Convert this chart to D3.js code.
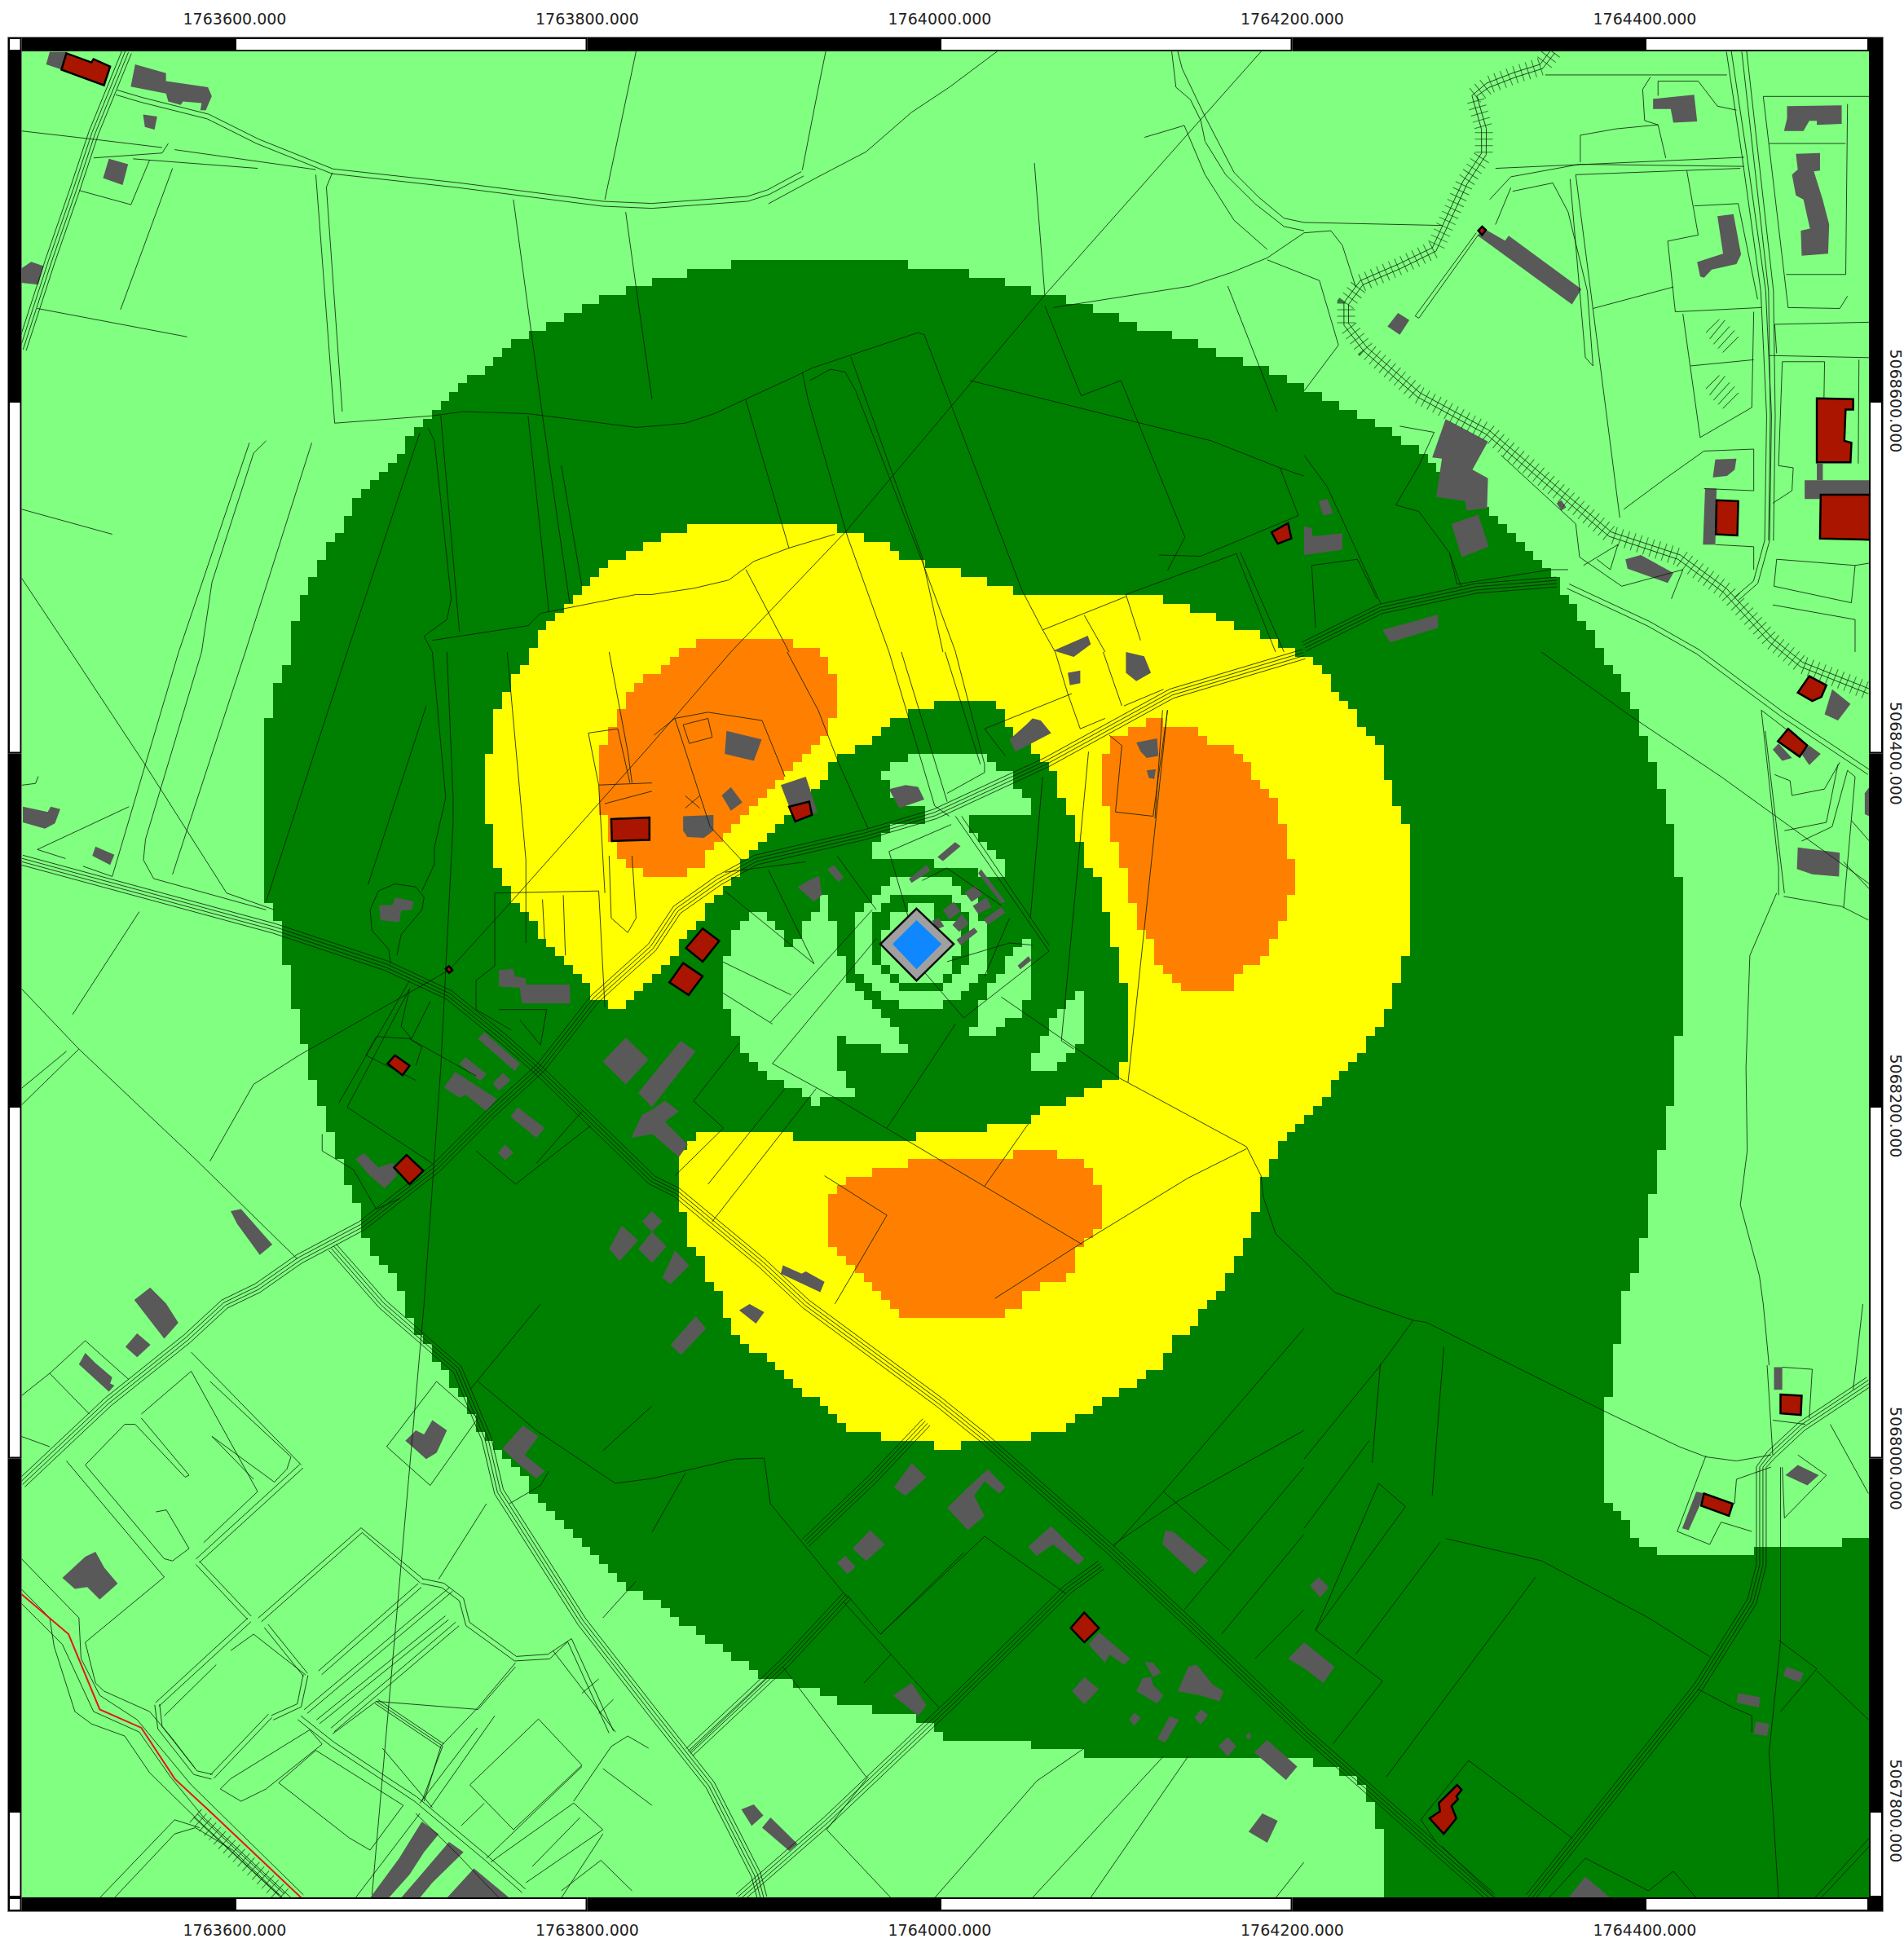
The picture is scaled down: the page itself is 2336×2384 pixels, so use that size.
<!DOCTYPE html>
<html>
<head>
<meta charset="utf-8">
<title>Noise map</title>
<script src="https://cdn.jsdelivr.net/npm/d3@7"></script>
<style>
html,body{margin:0;padding:0;background:#fff}
svg{display:block}
text{font-family:"DejaVu Sans",sans-serif;font-size:19px;fill:#222}
</style>
</head>
<body>
<script>
// all map data: metres east of 1763000 / metres north of 5067000
var eastBase=1763000, northBase=5067000;
var xTicks=[600,800,1000,1200,1400];
var yTicks=[1600,1400,1200,1000,800];
var cellSize=5, cellOrigin=[1.8,0];

// contour outlines
var zoneDark=[[632,1458],[632,1470],[637,1485],[643,1495],[652.5,1515],[667,1540],[677,1555],[697,1575],[703,1584],[712,1595],[737,1615],[762,1635],[782,1646],[802,1655],[828,1665],[842,1670],[868,1675],[892,1680],[962,1680],[1002,1675],[1027,1670],[1047,1664],[1060,1660],[1082,1655],[1096,1650],[1107,1645],[1121,1640],[1136,1636],[1152,1630],[1166,1624],[1181,1620],[1192,1615],[1207,1607],[1261,1580],[1311,1541],[1345,1504],[1359,1483],[1376,1458],[1397,1419],[1416,1356],[1422,1310],[1422,1261],[1416,1211],[1406,1156],[1397,1111],[1387,1088],[1387,1065],[1381,1065],[1381,1034],[1376,1034],[1376,973],[1381,973],[1397,953],[1412,944],[1461,944],[1461,948],[1512,948],[1512,953],[1536,953],[1536,745],[1252,745],[1252,790],[1247,790],[1247,805],[1242,805],[1242,815],[1237,815],[1237,820],[1227,820],[1227,825],[1212,825],[1212,830],[1082,830],[1082,835],[1051,835],[1051,841],[1002,841],[1002,845],[982,854],[946,861],[922,871],[901,876],[856,905],[837,920],[825,926],[797,954],[772,979],[752,1002],[742,1011],[737,1020],[717,1053],[703,1072],[697,1088],[688,1105],[672,1126],[672,1141],[662,1160],[657,1177],[652,1190],[647,1205],[643,1221],[637,1240],[632,1265],[627,1290],[622,1316],[617,1316],[617,1406],[622,1434]];
var zoneYellow=[[767,1458],[773,1464],[777,1475],[788,1485],[797,1495],[808,1505],[817,1510],[827,1515],[837,1520],[847,1525],[862,1530],[937,1530],[951,1525],[967,1520],[982,1510],[1002,1505],[1017,1500],[1032,1495],[1047,1490],[1117,1490],[1147,1480],[1162,1475],[1176,1470],[1187,1464],[1197,1458],[1207,1456],[1212,1451],[1216,1446],[1221,1441],[1226,1435],[1231,1430],[1237,1420],[1242,1411],[1252,1406],[1252,1390],[1257,1380],[1262,1361],[1266,1361],[1266,1291],[1262,1276],[1257,1261],[1252,1251],[1246,1241],[1242,1236],[1237,1226],[1231,1221],[1226,1216],[1221,1211],[1216,1200],[1212,1196],[1207,1191],[1197,1185],[1187,1165],[1182,1160],[1182,1142],[1177,1135],[1172,1121],[1167,1110],[1162,1100],[1152,1088],[1147,1081],[1143,1075],[1136,1070],[1131,1065],[1127,1055],[1122,1050],[1117,1046],[1107,1041],[1102,1036],[1091,1031],[1082,1025],[1072,1021],[1072,1015],[1051,1015],[1051,1010],[1012,1010],[1012,1005],[997,1005],[997,1010],[967,1010],[967,1015],[951,1015],[941,1025],[932,1030],[927,1036],[917,1041],[912,1046],[907,1051],[901,1057],[897,1061],[887,1066],[882,1071],[882,1081],[877,1081],[877,1088],[868,1104],[862,1118],[856,1128],[852,1151],[852,1171],[856,1176],[862,1181],[867,1186],[917,1186],[917,1181],[987,1181],[987,1186],[1027,1186],[1027,1191],[1051,1191],[1051,1196],[1067,1200],[1077,1206],[1087,1211],[1101,1216],[1101,1226],[1107,1226],[1107,1270],[1101,1270],[1101,1290],[1096,1290],[1096,1310],[1091,1310],[1091,1330],[1087,1330],[1081,1346],[1077,1361],[1072,1370],[1067,1380],[1062,1394],[1057,1399],[1051,1406],[1041,1415],[1036,1420],[1031,1430],[997,1430],[997,1425],[982,1425],[982,1420],[972,1420],[972,1415],[967,1415],[967,1410],[962,1410],[962,1405],[952,1405],[952,1400],[946,1400],[941,1395],[937,1390],[932,1385],[927,1380],[912,1364],[907,1359],[902,1354],[897,1349],[892,1344],[887,1339],[887,1330],[877,1325],[872,1316],[867,1311],[862,1304],[852,1291],[842,1276],[837,1271],[827,1266],[822,1256],[813,1256],[813,1261],[802,1261],[802,1266],[797,1271],[792,1276],[788,1280],[783,1285],[777,1291],[773,1297],[767,1306],[762,1311],[757,1316],[757,1325],[752,1325],[752,1336],[747,1336],[747,1361],[742,1361],[742,1401],[747,1401],[747,1420],[752,1435],[757,1435],[757,1445],[762,1445],[762,1451],[767,1451]];
var zoneOrangeA=[[807,1400],[807,1365],[812,1365],[812,1355],[817,1342],[822,1336],[837,1330],[856,1330],[862,1335],[868,1340],[871,1346],[877,1352],[882,1356],[886,1361],[892,1367],[897,1372],[901,1379],[912,1389],[917,1394],[922,1399],[927,1405],[932,1409],[937,1415],[941,1421],[941,1447],[937,1447],[937,1453],[932,1458],[932,1461],[917,1461],[917,1465],[867,1465],[857,1458],[853,1458],[847,1453],[842,1447],[837,1445],[827,1440],[822,1434],[817,1420],[813,1409]];
var zoneOrangeB=[[1091,1400],[1096,1400],[1096,1409],[1107,1409],[1107,1415],[1117,1415],[1117,1420],[1126,1420],[1126,1415],[1147,1415],[1147,1411],[1157,1406],[1166,1406],[1166,1400],[1176,1395],[1182,1380],[1192,1370],[1192,1361],[1197,1361],[1197,1340],[1202,1340],[1202,1321],[1197,1321],[1197,1306],[1192,1306],[1192,1296],[1187,1296],[1187,1287],[1176,1280],[1166,1270],[1166,1266],[1136,1266],[1136,1270],[1126,1276],[1122,1285],[1117,1299],[1112,1301],[1112,1316],[1107,1316],[1107,1336],[1101,1336],[1101,1350],[1096,1350],[1096,1370],[1091,1370]];
var zoneOrangeC=[[937,1150],[946,1155],[951,1160],[971,1165],[1002,1171],[1042,1171],[1042,1176],[1067,1176],[1067,1171],[1081,1171],[1081,1165],[1087,1165],[1087,1155],[1091,1155],[1091,1131],[1087,1131],[1087,1125],[1081,1120],[1077,1115],[1077,1106],[1067,1101],[1047,1092],[1047,1088],[1032,1081],[981,1081],[971,1088],[962,1097],[957,1101],[951,1106],[941,1117],[937,1122]];

// lighter pockets in the dark zone
var pocketTop=[[982,1400],[1027,1400],[1027,1395],[1032,1395],[1032,1390],[1042,1390],[1042,1380],[1047,1380],[1047,1375],[1052,1375],[1052,1365],[1017,1365],[1017,1355],[1022,1355],[1022,1350],[1027,1350],[1027,1345],[1032,1345],[1032,1340],[1037,1340],[1037,1330],[1022,1330],[1017,1335],[997,1335],[992,1340],[962,1340],[962,1350],[967,1350],[967,1355],[977,1360],[992,1362],[992,1367],[997,1370],[982,1371],[972,1375],[972,1385],[967,1385],[967,1390],[972,1390],[972,1395],[982,1395]];
var ringOuter=[[972,1330],[1007,1330],[1007,1325],[1012,1325],[1012,1320],[1017,1320],[1022,1315],[1022,1305],[1027,1305],[1027,1275],[1022,1275],[1022,1270],[1017,1270],[1012,1265],[1012,1260],[1002,1260],[1002,1255],[977,1255],[977,1260],[967,1260],[967,1265],[962,1265],[962,1270],[957,1270],[957,1275],[952,1275],[952,1310],[957,1310],[957,1315],[962,1315],[962,1320],[967,1320],[967,1325],[972,1325]];
var ringDark=[[972,1320],[1007,1320],[1007,1315],[1012,1315],[1012,1310],[1017,1310],[1017,1280],[1012,1280],[1012,1275],[1007,1275],[1007,1270],[1002,1270],[1002,1265],[977,1265],[977,1270],[972,1270],[972,1275],[967,1275],[967,1280],[962,1280],[962,1310],[967,1310],[967,1315],[972,1315]];
var ringCore=[[982,1315],[997,1315],[997,1305],[1012,1305],[1012,1285],[1007,1285],[1007,1275],[1002,1275],[1002,1270],[977,1270],[977,1275],[972,1275],[972,1280],[967,1280],[967,1300],[972,1300],[972,1310],[982,1310]];
var pocketLeft=[[892,1310],[902,1310],[902,1305],[907,1305],[907,1300],[912,1295],[912,1290],[917,1290],[917,1295],[922,1300],[922,1305],[927,1310],[932,1315],[932,1320],[937,1320],[937,1305],[942,1305],[942,1285],[947,1285],[947,1270],[952,1270],[952,1265],[957,1265],[957,1260],[962,1260],[962,1255],[967,1255],[967,1250],[972,1250],[972,1245],[977,1245],[977,1235],[982,1235],[982,1230],[967,1230],[967,1235],[947,1235],[947,1240],[942,1240],[942,1220],[947,1220],[947,1210],[952,1210],[952,1205],[932,1205],[932,1200],[927,1200],[927,1205],[922,1205],[922,1210],[912,1210],[912,1215],[902,1215],[902,1220],[897,1220],[897,1225],[892,1225],[892,1230],[887,1230],[887,1240],[882,1240],[882,1255],[877,1255],[877,1285],[882,1285],[882,1300],[887,1300],[887,1305],[892,1305]];
var pocketLowerA=[[1017,1245],[1022,1250],[1022,1260],[1027,1260],[1027,1270],[1032,1270],[1032,1275],[1037,1275],[1037,1285],[1042,1285],[1042,1290],[1047,1290],[1047,1295],[1052,1295],[1052,1260],[1047,1260],[1047,1255],[1042,1250],[1032,1245],[1032,1240],[1017,1240]];
var pocketLowerB=[[1077,1265],[1082,1265],[1082,1235],[1077,1235],[1077,1230],[1072,1230],[1067,1225],[1067,1220],[1052,1220],[1052,1230],[1057,1230],[1057,1240],[1062,1240],[1062,1250],[1067,1250],[1067,1255],[1072,1255],[1072,1260],[1077,1260]];

// reservoir
var basinOuter=[[986.8,1312],[1007.9,1291.9],[986.8,1271.1],[966.3,1291.9]];
var basinWater=[[986.8,1305.4],[1001,1291.9],[986.8,1277.6],[973.2,1291.9]];

var buildingsGrey=[
[[495,1798],[505,1798],[502,1788],[493,1791]],
[[543.5,1791],[561,1786],[561,1781.5],[584.8,1778],[587,1773],[583.6,1765],[580.5,1765],[581.2,1769],[570.6,1770],[569.4,1768],[562.3,1770],[561,1774.4],[541,1778.4]],
[[548,1762.6],[556,1761.4],[554.5,1754],[549,1755.5]],[[528.6,1737.4],[539.5,1734.3],[536.4,1722.5],[525.3,1726.5]],
[[479,1675.3],[484.5,1679],[491.6,1676.5],[488.5,1666],[479,1667]],
[[1305,1694],[1308.7,1697.8],[1320.7,1691],[1322.8,1693.8],[1364,1663.5],[1358.7,1654.8]],
[[1254,1642.3],[1260,1650],[1266.4,1645.9],[1261,1637.6]],
[[1404.7,1771.4],[1428,1773.7],[1429.7,1758.6],[1416.2,1757.9],[1414.7,1765.7],[1404.7,1765.7]],
[[1480.7,1767.3],[1511.7,1767.8],[1511.7,1757.2],[1497.6,1756.7],[1497.6,1759],[1493.3,1759],[1490,1753.2],[1479,1753.2],[1480.7,1760.3]],
[[1485.7,1740.2],[1499.4,1740.7],[1499.4,1730.8],[1495.9,1730.3],[1500.9,1714.3],[1504.6,1700.1],[1504,1683.6],[1489,1682.4],[1488.5,1696.6],[1493.7,1697.8],[1490,1714.3],[1485.7,1716.6],[1483.5,1728.4],[1486.8,1731.3]],
[[1441.2,1704.8],[1450.3,1706],[1454.6,1683.1],[1452,1677.7],[1438,1674.6],[1433.6,1670],[1431.4,1670.6],[1429.7,1678.9],[1444.4,1683.6]],
[[1440,1566.8],[1452,1567.3],[1451,1561],[1446.6,1557.4],[1438.6,1556.7]],
[[1434.2,1550.3],[1440.7,1550.3],[1440,1518.5],[1433,1518.5]],
[[1490.7,1555],[1527.6,1555],[1527.6,1544.4],[1490.7,1544.4]],[[1497.6,1564.5],[1501,1564.5],[1501,1555],[1497.6,1555]],
[[1287,1589.7],[1311,1577],[1302.2,1561],[1311,1556.2],[1310.5,1539.2],[1299,1537.8],[1297.9,1543.2],[1281.6,1545.6],[1284.9,1567.3],[1279.4,1568]],
[[1290.3,1530.3],[1305.5,1535.5],[1311.4,1517.3],[1296.1,1511.4]],[[1251.2,1470.1],[1282.7,1478.8],[1282.7,1471.3],[1255.5,1463]],
[[1389,1510.2],[1397.7,1512.6],[1416.2,1502.4],[1413,1496.8],[1390.2,1504.8]],[[1350,1542],[1352.6,1543.7],[1355.4,1539.7],[1352.6,1537.8]],
[[1215,1543.2],[1220,1544.4],[1223,1536.2],[1217.6,1535]],[[1206.7,1529],[1211,1527.9],[1211.5,1523.2],[1228.4,1525],[1228.4,1515.6],[1206.7,1512.6]],
[[1064.6,1458.4],[1084,1466.8],[1085.7,1462],[1076,1454.8]],
[[1105.6,1457.6],[1116,1455.2],[1119.8,1445.8],[1111.5,1441],[1105.6,1445.8]],[[1072.6,1445.8],[1079.7,1447],[1079.7,1439.9],[1073.8,1438.7]],
[[1039.6,1408],[1049,1416.3],[1052.6,1419.9],[1057.3,1418.7],[1063.2,1411.6],[1043,1401]],
[[879,1412.8],[899,1408],[894.5,1395.8],[878,1399.8]],[[881.5,1380.9],[888,1372.2],[881.5,1367.5],[876.3,1376.2]],
[[854.4,1364.4],[871.6,1365.1],[871.6,1356.2],[866.2,1352.1],[856.8,1352.6],[854.4,1356.2]],
[[909.8,1382.1],[924,1386.8],[930.6,1366.8],[918,1360.9]],[[971.2,1379.8],[980.6,1382.1],[987.7,1381],[991.2,1373.9],[977,1369]],
[[1111.5,1406.2],[1123.3,1408.5],[1124,1398.6],[1117.4,1397.4],[1114,1401]],[[1117.4,1390.4],[1122.6,1391.1],[1121.7,1385.6],[1118.6,1386.1]],
[[919.3,1324.3],[926.2,1328.2],[931.6,1330.5],[933.1,1319.7],[928.5,1315.9]],[[936.2,1334.3],[940,1336.6],[945.5,1329.7],[942.4,1327.1]],
[[998.7,1341.3],[1008.7,1349.7],[1011.8,1347.4],[1001.8,1339]],[[982.5,1328.9],[992.5,1336.6],[994.8,1333.6],[984,1326.6]],
[[1023.4,1334.3],[1037.2,1315.8],[1034.9,1315],[1021.8,1332]],[[1014.1,1321.2],[1020.3,1325.1],[1024.1,1319.7],[1018,1315.8]],
[[1018.7,1313.5],[1026.4,1318.2],[1029.5,1312.8],[1021.8,1309]],[[1024.9,1305.8],[1034.9,1312.8],[1037.2,1309.7],[1027.2,1302.8]],
[[1001.8,1311.2],[1007.9,1315.8],[1011.8,1310.4],[1005.6,1305.8]],[[1007.2,1302.7],[1012.5,1308.9],[1016.4,1303.5],[1011,1298.9]],
[[995.6,1305.1],[999.5,1306.6],[1002.5,1302],[998.7,1300.4]],[[1009.5,1294.3],[1019.5,1301.2],[1021.5,1298.9],[1011.8,1291.2]],
[[1044.2,1279.6],[1050.3,1285],[1051.9,1282.7],[1045.7,1277.6]],
[[479.8,1369.8],[493.9,1366.8],[495.6,1369.8],[501,1368.4],[498,1360.4],[492.3,1357.3],[479.8,1360.9]],
[[521,1347.2],[531.7,1342.5],[529.3,1336.8],[519.2,1342]],
[[691,1318.4],[701.5,1316],[700.4,1311.3],[694.4,1310.9],[693.3,1304.3],[682.7,1305.4],[682,1313.7],[689.7,1314.2]],
[[749.9,1277.1],[758.1,1277.8],[758.8,1273.6],[765.2,1272.4],[765.2,1268.9],[790,1268.9],[790.4,1258.3],[762.9,1258.3],[761.7,1267],[749.9,1267.7]],
[[741.6,1241.8],[761.7,1224],[758.9,1219.8],[738,1238.2]],[[731,1227.6],[742.8,1218.2],[739.3,1214.1],[727.5,1224]],
[[752.2,1218.9],[756.5,1214.6],[749.9,1208.7],[746.3,1212.7]],[[725.1,1219.3],[748.7,1204],[742.8,1197],[731,1206.4],[727.5,1204.7],[718.7,1210.4]],
[[760.5,1199.3],[775.8,1187.5],[771.1,1182],[756.5,1193.9]],[[753.4,1178.1],[758.1,1173.4],[753.4,1169.3],[749.4,1173.4]],
[[821.8,1238.7],[834.8,1226.4],[821.8,1212.3],[808.8,1225.2]],[[853,1237],[861.5,1231],[836.7,1199.3],[828.9,1207.5]],
[[837,1198],[844,1203],[852,1197],[844,1191],[857,1178],[852,1171],[837,1184],[825,1182],[831,1195]],
[[836.7,1140.3],[842.6,1134.4],[836.7,1128.5],[831,1134.5]],[[836.7,1128.5],[845,1120.3],[836.7,1111],[828.9,1119]],
[[849.7,1117.9],[857.9,1109.6],[847.3,1099],[842.6,1102.5]],[[819.5,1132],[828.9,1123.8],[818.3,1112],[812.4,1119]],
[[911,1109.6],[921.6,1104.9],[924,1106.1],[934.6,1100.2],[932.2,1094.3],[909.8,1104.9]],
[[597.7,1140.3],[603.6,1141.5],[621.3,1121.4],[614.2,1115.5],[601.3,1133.2]],
[[668.5,1169.8],[673.2,1173.4],[681.5,1165.1],[689.7,1167.9],[692,1160.4],[685,1153.3],[676.8,1160.4]],
[[515.2,1059.9],[521,1054.1],[530.5,1046],[529.3,1042.5],[531.7,1041.4],[528.6,1037.9],[511.6,1053.4]],
[[544.6,1071],[552.2,1064.5],[544.6,1057.5],[538,1063.3]],[[543,1090],[552,1097],[561,1088],[568,1077],[560,1068],[553,1077]],
[[521,947],[526,938],[533.6,929],[523.4,920],[516.3,927],[509.3,926],[502.2,932.2],[515.2,944.3]],
[[706.2,794],[715.7,786.8],[707.4,776.6],[699.2,763.9],[687.4,750.7],[676.8,750.7],[693.3,773.2]],
[[721.6,782.4],[729.8,776.6],[712.1,759.3],[705,750.7],[694.4,750.7]],[[735.7,767.4],[755.8,750.7],[720.4,750.7]],
[[712.1,1021.7],[720.4,1015.9],[714.5,1003.2],[708.6,999.7],[696.8,1010.1],[702.7,1015.9],[707.4,1013.6]],
[[763.6,1018.7],[772.3,1012.5],[764.5,1002],[775.8,992.8],[771.1,988.6],[761.7,996.3],[751.8,1005.5]],
[[984.1,997.4],[992.4,989.3],[980.6,978.9],[974,983.6]],
[[1027.3,993.9],[1037.2,983.6],[1033.7,980.1],[1025.4,987],[1019.5,978.9],[1025.4,967.4],[1016,959.3],[1004.2,972],[1016,983.6]],
[[960.5,959.3],[968.8,951.2],[958.2,941.9],[950.4,948.9]],[[946.4,944.7],[952.3,938.5],[947.6,934.5],[941.7,940.8]],
[[1063.2,961.6],[1082,943.1],[1078.5,939.6],[1064.3,951.2],[1054.9,944.7],[1050.2,950]],
[[861.5,1080.7],[867.4,1073.7],[853.2,1058.7],[847.3,1064.5]],[[892.1,1087.6],[900.4,1083],[895.7,1076.5],[886.2,1084.1]],
[[1128,959.3],[1132.8,958.1],[1152.4,942],[1144.5,934.5],[1126.4,951.2]],
[[1090.3,901.5],[1108,886.4],[1104.5,883],[1096.2,888.8],[1093.8,884.1],[1084.4,894.5]],
[[1116.2,884.6],[1121,884.1],[1125.7,878.4],[1121,876]],[[1115,875.4],[1119.8,876],[1121,871.4],[1126.9,865.6],[1123.3,861],[1111.5,868]],
[[1141,881.8],[1145.7,883],[1155.2,871.4],[1161,868],[1158.7,862.2],[1148,865.6],[1135,868]],
[[1082,876],[1090.3,869.1],[1082,860.6],[1075,868]],[[1110.3,855.7],[1113.9,852.9],[1110.3,848.3],[1107.5,851.8]],
[[1130.4,853.6],[1135.8,851.8],[1128,839.1],[1123.3,840.7]],[[1148,857.6],[1152.3,854.5],[1148,849],[1144.5,852.9]],
[[1163.4,842],[1168.1,836.8],[1163.4,831],[1158,836.8]],[[1175.2,844.4],[1176.9,842.5],[1175.2,840.2],[1173.6,842.5]],
[[1185.8,840.2],[1202.8,825.2],[1196.4,817.6],[1178.3,833.3]],[[1183,798.6],[1191.7,794.4],[1185.8,782],[1175.2,788.2]],
[[980.6,870.3],[984.1,872.6],[992.4,859.9],[987.7,854.1],[973.5,865.6]],
[[1197.6,886.4],[1206.7,895.7],[1224,881.8],[1217.6,872.6],[1206.7,881]],
[[887.4,800.9],[894.5,803.7],[899.9,797.4],[893.3,791.6]],[[904,796.3],[919.3,781.3],[914.6,777.3],[899.2,790.5]],
[[1210,928],[1215,932.7],[1220.8,926.9],[1215.8,921.1]],[[1366.3,762.8],[1380.4,750.7],[1356.5,750.7]],
[[1453,866.8],[1465.5,864.5],[1464.6,858.7],[1452,861.5]],[[1463,850.6],[1470.5,849.5],[1469.4,842.5],[1461.8,843.7]],
[[1480.3,881.8],[1490,878.4],[1488,873],[1478.5,876.7]],[[1486.8,996.3],[1498.7,990.5],[1492.2,984.7],[1479.8,990.5]],
[[1473.3,1051.8],[1478,1051.8],[1478,1039],[1473.3,1039]],[[1429.2,981.2],[1434.2,980.1],[1424.9,959.3],[1421.2,960.4]],
[[1486.8,1346.7],[1510.6,1343.7],[1510.2,1330.2],[1495,1331.4],[1486.3,1334.5]],[[1506.3,1436.4],[1516.7,1428.1],[1509.6,1418.7],[1502,1422.2]],
[[1472.6,1402.2],[1475.9,1405.7],[1483.5,1397.4],[1478,1395.8]],[[1488.9,1399.8],[1493.3,1404.5],[1499.8,1399.8],[1493.3,1393.4]],
[[1524.8,1377.4],[1527.4,1381],[1527.4,1364.4],[1524.8,1365.6]]
];

var buildingsRed=[
[[504.5,1797.3],[518.7,1792.1],[519.9,1794],[529.3,1789.8],[525.8,1779.1],[501.7,1788]],
[[813.6,1362.8],[835.3,1363.7],[835.3,1351],[814,1350.3]],[[914.5,1369.8],[925.9,1372.7],[927.5,1365.1],[918,1361.4]],
[[865.5,1300.7],[874.9,1293.6],[865.5,1281.9],[856,1289.6]],[[854.4,1281.1],[865.5,1273.6],[857.5,1263],[846.6,1270.1]],
[[719.7,1277.8],[721.6,1279.3],[723.5,1277.1],[721.6,1275.5]],[[690.9,1228.8],[699.2,1222.9],[695.2,1217.5],[686.7,1224]],
[[697.5,1172.2],[707,1163.2],[699.2,1155.6],[690.4,1165.1]],[[1082,912.6],[1090.3,903.8],[1082,895.7],[1074.3,903.8]],
[[1293.5,814.8],[1296.1,812],[1293.1,808.3],[1294,806.7],[1290.3,802.8],[1293.1,795.8],[1285.9,787],[1277.9,795.8],[1283.8,799.8],[1283.1,804.4]],
[[1477,1036.3],[1489,1035.6],[1488.5,1024.7],[1477,1025.6]],[[1433.6,980.1],[1449.9,974.3],[1447.7,967.4],[1432,973.2]],
[[1493.3,1443.9],[1503,1438.7],[1500.2,1432.1],[1495,1429.8],[1486.8,1434.5]],[[1481.3,1414],[1492.2,1404.5],[1487.8,1398.2],[1475.5,1406.9]],
[[1497.6,1601.5],[1518.2,1601],[1518.2,1595.1],[1513.9,1595.1],[1513.2,1577.4],[1517.2,1576.3],[1516.7,1565.2],[1497.6,1565.2]],
[[1499.8,1546.8],[1527.6,1546.8],[1527.6,1521.3],[1499.4,1522]],[[1440.7,1543.7],[1453,1543.2],[1452.5,1523.7],[1440.3,1524.4]],
[[1307.7,1699],[1309.8,1697],[1307.7,1694.2],[1305.5,1696.6]],[[1188.2,1525.5],[1197.6,1530.7],[1199.5,1522],[1191.7,1519]]
];

// single thin lines: parcels, paths
var lineParcels=[
[[922,1731],[930.6,1775.1],[935.3,1798.3]],[[902.8,1711.9],[931,1727.2],[958.2,1741.4],[984,1763.8],[1005.4,1778],[1032.5,1798.3]],
[[564.7,1732],[535.2,1651.8]],[[488,1652.5],[573,1636.4]],[[479,1753.2],[519.9,1748.5],[558.8,1743.8]],[[519.9,1737.9],[558.8,1740.7],[562.3,1746.1]],
[[565.9,1742.6],[646,1731.3]],[[542.3,1737.4],[613,1732]],[[511.6,1719.5],[541.1,1711.4],[551.7,1736.7]],
[[646,1728.4],[656.7,1587.4],[712.1,1591.6],[729.8,1594],[766.4,1592.8],[827.7,1585],[836.7,1585.7],[855.6,1587.4],[872.1,1592.8],[889.8,1601],[918.1,1614],[927.5,1618.7],[987.7,1638.8],[991.2,1637.6],[1046.7,1492.5]],
[[655.4,1729.6],[652,1721.3],[661,1594]],[[758.1,1714.3],[774.6,1591.6],[790,1485.4]],[[821.8,1707.2],[827.7,1664.7],[836.7,1601]],[[827.7,1798.3],[810,1714.3]],
[[716.9,1591.6],[727.5,1468.9]],[[705,1582],[663.8,1457.6],[617.8,1316]],[[709.8,1584.5],[713.3,1577.4],[722.8,1487.8],[720.4,1476],[707.4,1466.6],[712.1,1457.6]],
[[712.1,1464.2],[766.4,1472.5],[773.4,1479.5],[827.7,1490.2],[836.7,1490.2],[860.3,1493.7],[880.3,1498.4],[894.5,1509],[914.5,1516.6],[940.5,1524.4]],
[[766.4,1591.6],[778.2,1480.7]],[[785.3,1563.3],[797,1495]],[[479,1499.6],[507,1457.6],[548.2,1395.1],[595.4,1320.8],[622.5,1311.3]],[[479,1538.6],[530.5,1524.4]],
[[608.3,1576.3],[568.2,1457.6],[530.5,1330.2]],[[617.8,1577.4],[610.7,1570.4],[587.1,1497.2],[581.2,1457.6],[549.4,1351.4],[548.2,1339.6],[554,1329],[617.8,1311.3]],
[[643.7,1576.3],[606,1457.6],[564.7,1331.4]],[[708.6,1426.9],[675.6,1325.5]],
[[692,1285.4],[694.4,1297.2],[706.2,1311.3],[707.4,1318.4],[702.7,1324.3],[690.9,1326],[681.5,1322],[676.8,1311.3],[677.9,1299.5],[687.4,1288.9],[688.5,1280.7]],
[[706.2,1322],[713.3,1337.3],[713.3,1346.7],[719.7,1375],[712.1,1457.6]],[[720.4,1457.6],[723.9,1375],[723.9,1360.9],[716.9,1221.7],[707.4,1087.7],[677.9,752.4]],
[[1182.3,1798.3],[1059.6,1660.1],[946.4,1525.6],[881.5,1457.6],[836.7,1405.7],[757,1316],[721.6,1277.1],[636.6,1228.8],[610.7,1212.3],[585.9,1168.6]],
[[545.8,1310.2],[508,1251.9]],[[488,1345.5],[540,1369.8]],[[488,1345.5],[504,1340.4]],[[514,1336],[530.5,1330.2]],
[[889.8,1601],[914.5,1516.3]],[[890,1504.4],[914.5,1457.6]],[[922,1616.4],[925.2,1601],[947.6,1523.2],[971.2,1457.6]],
[[926.3,1611.6],[938,1618],[946.4,1616.4],[952.3,1605.7],[990,1509],[1009,1457.6]],[[949.5,1625.1],[990,1511.4],[1001.8,1457.6]],
[[1017.2,1611.6],[1154,1577.4],[1193,1562.1],[1206.7,1557.4]],[[1059.6,1654],[1080.2,1603],[1102.8,1611.6],[1139.1,1522.7],[1129.2,1503.8]],[[1053.7,1735],[1059.6,1660.1]],
[[1064.3,1653],[1142.2,1665.2],[1165.8,1673],[1185.8,1681.2],[1206.7,1695.4]],[[1185.8,1686],[1167,1702.5],[1150.5,1728.4],[1138.7,1756.3],[1116.2,1749.6]],[[1185.8,1680.1],[1206.7,1671.8]],
[[1131.6,1798.3],[1134,1778],[1142.2,1771],[1148.1,1759.1],[1150.5,1747.3],[1162.2,1728.4],[1178.8,1712],[1195.3,1699],[1206.7,1696.6]],
[[1135,1798.3],[1137.5,1788.6],[1150.5,1761.4],[1167,1729.6],[1181.1,1715.5],[1195.3,1703.7],[1206.7,1701.3]],[[1163.4,1665.2],[1191.3,1594]],
[[1193,1562.1],[1203.5,1535],[1148,1511.9],[1124.5,1512.6]],[[1168.1,1513.8],[1190.5,1457.6]],[[1170.5,1514.2],[1195.3,1457.6]],[[1105.6,1490.2],[1168.1,1513.3]],[[1058.4,1470.1],[1105.6,1489]],
[[1046.7,1492.5],[1058.4,1470.1],[1065.5,1457.6],[1072.6,1434],[1079.7,1414]],[[1082,1478.4],[1093.8,1457.6]],[[1105.6,1490.2],[1113.9,1464.2]],[[1092.7,1457.6],[1103.3,1427]],[[1126.9,1436.4],[1104.5,1427]],
[[849.7,1419.9],[868.5,1423.4],[899.2,1418.7],[912.2,1386.8]],[[849.7,1419.9],[837.9,1410.4]],[[849.7,1419.9],[869.7,1358.5],[887.4,1339.6]],
[[913.4,1457.6],[931,1424.6],[942.9,1393.9],[959.4,1357.3]],[[971.2,1457.6],[997.1,1370.3],[1005.4,1364.4]],[[978.2,1457.6],[1004.2,1372.7]],[[1008.9,1457.6],[1025.4,1393.9],[1025.4,1389.2],[1004.2,1377.4]],[[1003,1457.6],[1023,1393.9]],
[[1025.4,1414],[1075,1434]],[[1025.4,1414],[1037.2,1398.6]],[[1079.7,1414],[1093.8,1419.9]],
[[1129.2,1424.6],[1121,1364.4],[1099.7,1366.8],[1103.3,1404.5],[1096.2,1410.4]],[[1129.2,1424.6],[1106.8,1213.4]],[[1126.4,1424.6],[1122.1,1363.2]],[[1084.4,1401],[1069,1237],[1076,1232.3]],[[1058.4,1386.8],[1051.4,1306.6]],
[[1034.9,1261.8],[1102,1215.8],[1174,1176.9],[1182.3,1160.4],[1183.5,1148.6],[1190.6,1127.3],[1206.7,1112],[1224,1094.3],[1241.4,1087.7],[1268.6,1078.4],[1276.2,1077.2],[1380.4,1025.2],[1419.5,1006.7],[1434.7,1000.9],[1452,998.6],[1471.6,1002]],
[[1174,1175.7],[1141,1159.2],[1081,1122.6],[1031.3,1090.8]],[[1025.4,1154.5],[1050.2,1189.8]],[[934.6,1160.4],[970,1138],[950,1103.8],[940.5,1087.7]],[[905.1,1224],[941.7,1204],[1080.9,1121.4]],[[970,1187.5],[1008.9,1246.5]],
[[868.5,1155.6],[912.2,1209.9]],[[870.9,1134.4],[929.9,1209.9]],[[860.3,1202.8],[886.2,1235.8]],[[860.3,1202.8],[877.3,1187.5],[849.7,1160.4]],
[[904,1247.6],[961.7,1311.3]],[[905,1224],[964,1295]],[[876.8,1281.8],[915.7,1263]],[[876.8,1264.2],[905.1,1246.5]],[[902.8,1333.8],[928.7,1280.7]],[[878,1322],[928.7,1280.7]],[[878,1332.6],[924,1338.5]],
[[1008.9,1364.4],[1062,1287.8],[1013.6,1250],[991.2,1276],[971.2,1344.4],[1006.5,1359.7]],[[1012.4,1364.4],[1062,1291.3]],[[990,1327.9],[1004,1335],[1035,1313.7]],[[1004.2,1281.9],[1039.6,1292.5],[1052.6,1291.3]],[[1039.6,1306.6],[1025.4,1273.6]],[[941.7,1342],[964,1311.3]],
[[479,1266.5],[511.6,1232.3],[577.7,1169.8],[635.5,1113.2]],[[479,1210],[504.5,1231]],[[479,1200.5],[511.6,1232.3]],
[[1475.9,750.7],[1470.5,833.3],[1477,895.7],[1477,995]],[[1450.9,974.3],[1452,988.2],[1471.6,995.1]],[[1497.6,879.5],[1526.9,851.8]],[[1475.9,896.9],[1497.6,880.7],[1477,856.4]],
[[1430.3,869.1],[1449.9,858.7],[1460.7,854.1],[1460.7,844.8]],[[1287,954.6],[1341.3,942],[1402.1,909.6],[1436.8,887.6]],[[1250,1054],[1245.3,997.4]],[[1286,1063.3],[1279.4,979]],
[[1206.7,999.7],[1250,1052.9],[1268.6,1078.4]],[[1206.7,960.4],[1243.6,1010.1]],[[1249,985.9],[1264.2,972.7]],[[1213.2,902.6],[1264.2,972.7]],[[1213.2,902.6],[1251.2,873.7],[1223,837.9]],[[1213.2,902.6],[1249,985.9]],
[[1236,888.8],[1283.8,952.4]],[[1253.4,819.4],[1338,932.7]],[[1300,828.6],[1358.7,784.7]],[[1300,828.6],[1272.9,795.1],[1281.6,782.4]],[[1284.9,780],[1315.2,750.7]],
[[1416.2,765.8],[1429.2,750.7]],[[1366.3,773.2],[1402.1,754.7],[1416.2,765.8]],[[1366.3,773.2],[1345.6,750.7]],[[1496.5,750.7],[1527.4,784.7]],[[1500,750.7],[1527.4,780]],
[[1505.2,1019.4],[1526.9,980.1]],[[1493.3,1022.9],[1495,1050.6],[1478,1051.8]],[[1472.6,1021.7],[1491.1,1019.4]],[[1469.4,1052.9],[1472.6,1002]],[[1467.2,1087.6],[1470.5,1052.9]],[[1523.7,1087.6],[1518.2,1039]],
[[1434.7,1001.6],[1418.4,958.6],[1436.8,951.2],[1443.3,963.9],[1460.7,958.6]],[[1478,995.1],[1479.2,966.2],[1503,990.5],[1486.8,1002]],
[[1474.8,1320.8],[1459.6,1285.4],[1457.4,1221.7],[1458.1,1174.5],[1454.2,1143.9],[1465,1103.7],[1467.2,1087.6]],[[1478.8,1318.9],[1511.7,1313.2],[1526.9,1305.5]],
[[1466.1,1424.6],[1475.9,1335],[1475.9,1319.6]],[[1468.3,1412.8],[1479.2,1320.8]],[[1466.1,1424.6],[1484.6,1410.4]],[[1512.8,1312.5],[1519.3,1386.8],[1515,1390.4],[1506.3,1358.5],[1489,1350.3]],
[[1510.6,1395],[1501.9,1379.8],[1483.5,1376.2],[1482.4,1384.5],[1473.7,1388]],[[1479.2,1356.2],[1503,1360.9],[1509.6,1393.9]],[[1517.2,1362],[1527.4,1350.3]],[[1512.8,1338.5],[1527.4,1323.1]],
[[1341.3,1457.6],[1392.3,1421],[1443.3,1386.8],[1502,1344.4],[1527.4,1326]],
[[1315.3,1732],[1456.4,1738.3]],[[1312,1714.3],[1324,1727.2],[1363,1734.3],[1456.4,1733.1]],[[1325,1719],[1347.8,1723.7],[1356.5,1707.2],[1367.4,1662.4],[1370.6,1619.9],[1366.3,1624.6],[1357.6,1726]],
[[1360.8,1728.4],[1385.8,1533.8]],[[1360.8,1728.4],[1454.2,1732]],[[1370.6,1652.5],[1416.2,1664.7]],[[1423.8,1730.8],[1430.3,1694.2],[1413,1690.7],[1417.3,1650.6],[1466.1,1653]],[[1428.1,1710.7],[1453,1712],[1464,1657.7]],
[[1421.6,1649.4],[1431.4,1579.3],[1460.7,1596.3],[1461.8,1650.6]],[[1426,1619.9],[1461.8,1623.4]],[[1363.4,1750.8],[1363.4,1735.5]],[[1363.4,1750.8],[1383.6,1754.4],[1407.5,1756.7],[1411.9,1737.9]],
[[1403.2,1783.9],[1398.8,1776.8],[1399.9,1759.1],[1407.5,1756.7]],[[1343.5,1785],[1446.6,1785]],[[1407.5,1773.2],[1407.5,1781.5],[1430.3,1781.5],[1441.2,1767.3],[1452,1765]],
[[1467.2,1772.8],[1481.3,1653],[1510.6,1652.5],[1515,1659.5]],[[1470.5,1746.1],[1513.9,1746.1]],[[1467.2,1772.8],[1527.4,1772.8]],[[1515,1768.5],[1514,1671.8],[1480.2,1671.8]],
[[1473.7,1643.5],[1527.4,1644.7]],[[1473.7,1643.5],[1474.8,1627]],[[1470.5,1625.8],[1527.4,1624.6]],[[1478,1622.3],[1502,1622.3],[1501.5,1591.6],[1497.6,1564.5]],[[1478,1622.3],[1475.9,1563.3],[1484.2,1562.1],[1483.5,1549.1],[1472.6,1542]],[[1521.5,1623.4],[1521.1,1564.5]],
[[1433.6,1571.6],[1461.8,1572.7],[1461.8,1549.1],[1433.6,1550.3]],[[1388,1538.5],[1411.9,1556.2],[1433.6,1571.6]],[[1440,1518.5],[1461.8,1517.3],[1461.8,1504.3]],
[[1474.8,1510.2],[1519.3,1506.7],[1527.4,1508]],[[1474.8,1510.2],[1473.3,1494.9],[1517.2,1485.5],[1519.3,1506.7]],[[1472.6,1484.3],[1519.3,1476],[1519.3,1457.6]],
[[1318.5,1569.2],[1360.8,1530.3],[1363,1511.4],[1386.9,1494.9],[1421.6,1504.3],[1415.1,1487.8]],[[1365.2,1506.7],[1384.7,1518.5],[1380.4,1504.3],[1372.8,1510.2]],
[[1261,1585.7],[1280.5,1582.2],[1271.8,1563.3],[1258.8,1541],[1271.8,1537.3],[1289.2,1513.8],[1295.7,1494.9]],[[1289.2,1513.8],[1293.5,1496],[1346.7,1504.3],[1356.5,1504.3]],
[[1211,1506.7],[1237,1510.2],[1248,1487.8]],[[1213.2,1471.3],[1211,1506.7]],[[1206.7,1569.2],[1219.7,1551.5],[1234.9,1518.5],[1250,1485.4]],
[[1206.7,1701.3],[1284.9,1699.6]],[[1206.7,1695.4],[1221.9,1696.6],[1228.4,1688.3],[1236,1664.7]],[[1206.7,1671.8],[1215.4,1668.3],[1226.2,1631.7],[1206.7,1605.7]],
[[1304.4,1695.4],[1269.7,1648.2],[1271.8,1647],[1305.5,1694.2]],[[1324,1721],[1315.3,1700.1]],
[[1434.7,1638.8],[1442.3,1646.3]],[[1436.8,1635.2],[1445.5,1645.9]],[[1439,1632.2],[1448.1,1642.3]],[[1441.6,1629.8],[1450.9,1640]],[[1444.2,1627.5],[1453.1,1636.4]],
[[1434.7,1607],[1442.3,1614.5]],[[1436.8,1603.4],[1445.5,1614.1]],[[1439,1600.4],[1448.1,1610.5]],[[1441.6,1598],[1450.9,1608.2]],[[1444.2,1595.7],[1453.1,1604.6]],
[[855.6,1376],[863.8,1369]],[[855.6,1369],[863.8,1376]],[[854.4,1416.3],[868.5,1419.9],[870.9,1409.2],[857.9,1405.7],[854.4,1416.3]],
[[495,1048.3],[517.5,1025.2]],[[479,1035.6],[495,1048.3],[515.2,1066.8],[539.9,1044.8]],[[479,1012.5],[495,1006.7]],[[504.5,998.6],[560,932.7],[515.2,895.7],[521,872.6],[525.8,868],[551.7,856.4],[563.5,842.5],[577.7,824]],
[[479,943.1],[511.6,909.6],[512.8,886.5],[523.4,865.6],[544.6,851.8],[575.3,814.8],[639,752.4]],[[479,925.8],[495,909.6],[497.5,893.4],[509.3,856.4],[518.7,849.4],[537.6,842.5],[551.7,821.7],[580,794],[624.9,752.4]],
[[479,917.7],[502.2,894.5],[519.9,856.4],[545.8,844.8],[563.5,819.4],[582.4,796.3],[632,750.7]],
[[515.2,996.3],[537.6,1019.4],[543.5,1019.4],[571.8,989.4],[574.1,990.5],[547,1022.9]],[[515.2,996.3],[560,943.1],[564.7,941.9],[574.1,948.9],[561.2,970.8],[555.3,969.7]],
[[575.3,1049.5],[613,981.2]],[[613,981.2],[582.4,952.3]],[[547,1025.2],[575.3,1049.5]],[[587.1,1012.5],[610.7,988.2]],
[[586,1043.7],[631.9,1000.9],[629.6,994],[622.5,986.6],[587.1,1012.5]],[[575.3,1060.3],[637.8,996.3]],
[[597.7,891],[610.7,900.3],[640.2,877.2]],[[589.5,883],[560,854]],
[[655.5,843.7],[680.3,862.2],[718,836.8],[706.2,805.5]],[[680.3,862.2],[738,857.6],[759.3,881.8]],[[759.3,884.1],[738,858.7],[717,836.8],[707.4,805.5]],
[[624.9,816],[646,834.4],[695.6,803.2],[676.8,777.8],[665,784.7],[624.9,816]],[[591.8,812.5],[603.6,805.5],[617.8,812.5],[649.6,837.9],[642.5,846],[597.7,818.3],[591.8,812.5]],[[683.8,835.6],[712.1,802]],
[[733.4,814.8],[772.3,852.2],[797,826],[758.1,789.4],[733.4,814.8]],[[705,804.4],[737.7,847.2]],[[711,802],[747.5,854]],[[742.8,773.2],[797,825.2]],[[728.6,791.7],[741.6,804.4]],
[[792.3,805.5],[813.6,836.6],[823,842.5],[834.8,835.6]],[[780.5,891],[816,844.8]],[[806.5,874.9],[797,866.8]],[[814.8,863.3],[806.5,855.2]],[[808.9,824],[836.7,803.2]],[[745.2,771],[792.3,804.5],[808.9,789.4],[765.2,759.3]],[[768.8,768.5],[795.9,796.3]],
[[808.9,787],[785.3,750.7]],[[785.3,754.7],[807.7,772],[825.4,754.7]],[[523.4,750.7],[565.9,795],[580,790.5]],[[531.7,750.7],[565.9,787],[577.7,790.5],[598.9,777.8],[627.2,750.7]],[[668.5,750.7],[705,798.6]],[[702.7,798.6],[726.3,775.5],[749.9,750.7]],
[[742.8,974.3],[715.7,931.5]],[[710.9,984.7],[686.2,1006.7],[714.5,1043.7],[738,1022.9],[710.9,984.7]],[[755.8,974.3],[773.5,984.7],[778.2,992.8]],[[808.9,909.6],[827.7,930.4]],
[[733.4,1039],[773.5,1087.6]],[[738,1043.7],[771.1,1015.9],[815.9,985.9],[836.7,988.6],[883.9,999.7],[900.4,1000.2],[903.9,974.3],[947.6,921.1]],[[808.9,1004.4],[836.7,1029.8]],[[836.7,958.1],[855.6,991.6]],
[[947.6,922.3],[966.4,900.3],[1025.4,955.8],[1071.4,923.4]],[[966.4,900.3],[1013.6,946.6]],[[972.3,888.8],[999.5,858.7]],[[945.2,918.8],[972.3,888.8],[957,872.6]],[[902.8,876],[857.9,833.3]],[[911,881.8],[958.2,819.4]],
[[997.1,750.7],[1055,817],[1082,835.6]],[[1052.5,750.7],[1126.9,831]],[[1085.5,750.7],[1140.9,831]],[[1190.6,750.7],[1206.6,770.9]],[[935.8,789.4],[972.3,750.7]],[[959.4,819.4],[935.8,789.4]],
[[1098.6,950],[1126.9,981.2],[1164.6,947.7]],[[1126.9,981.2],[1206.6,1073.7]],[[1098.6,951.2],[1136.3,976.6],[1206.6,1015.9]],[[1138.7,914.2],[1206.6,995.1]],[[1159.9,900.3],[1206.6,957]],[[1178.8,886.4],[1206.6,914.2]],
[[659,1201.6],[699.2,1271.2]],[[663.8,1199.3],[699.2,1266.5],[694.4,1245.3],[700.3,1238.2]],[[674.4,1228.8],[680.3,1239.4],[699.2,1238.2],[706.2,1233.5],[702.7,1222.9]],[[674.4,1228.8],[702.7,1214.6]],[[663.8,1199.3],[712.1,1167.4]],
[[649.6,1184],[649.6,1174.5],[667.3,1163.9],[680.3,1141.5],[693.3,1147.4]],[[700.3,1238.2],[711,1259.4]],[[699.2,1238.2],[737,1217]],[[736.9,1174.5],[759.3,1155.6],[801.8,1188.7]],[[771.1,1167.4],[797,1196.9]],
[[761.7,1248.8],[773.5,1234.6],[777,1254.7],[749.9,1254.7]],[[736.9,1271.2],[736.9,1254.7],[757,1243]],[[736.9,1271.2],[747.5,1279.5],[747.5,1320.8],[806.5,1322],[810,1255.9]],
[[806.5,1382.1],[810,1320.8]],[[800.6,1411.6],[806.5,1382.1],[836.7,1383.3]],[[800.6,1411.6],[817.3,1414],[824.2,1383.3]],[[809.9,1371.5],[836.7,1378.6]],[[812.4,1342],[813.6,1306.6],[823,1298.4],[827.7,1306.6],[825.4,1342]],
[[754.6,1457.6],[765.2,1339.6],[765.2,1292.5]],[[774.6,1317.2],[775.8,1294.8]],[[786.4,1319.6],[787.6,1285.4]],[[812.4,1457.6],[823,1401],[825.4,1383.3]],[[479,1382],[487,1383],[488.5,1387]]
];

// roads drawn as parallel lines
var roadDouble=[
[[532.9,1775.1],[547,1770.9],[584.8,1761.4],[613,1747.3],[655.5,1730.3],[726.3,1722.5],[808.9,1711.9],[836.7,1710.7],[891,1714.7],[902.8,1718.5],[922.1,1728.9]],
[[1447.7,1798.3],[1456.4,1740.2],[1467.2,1662.4],[1470.5,1591.6],[1469.4,1520.8],[1462.9,1497.2],[1452,1487.8]],
[[1456.4,1798.3],[1471.6,1662.4],[1472.6,1591.6],[1471.6,1520.8]],
[[1356.5,1494.9],[1402,1473.7],[1430.3,1457.6],[1478,1422.2],[1527.4,1389.2]],
[[637.8,995.6],[578.9,941.9]],[[578.9,940.8],[608.3,909.6]],[[608.3,908.4],[556,860.4]],[[556,860.4],[557.6,847.2],[577.7,821.7],[587.1,819.4]],[[587.1,819.4],[620.1,854]],
[[614.2,908.4],[672,959.3],[706.2,930.4]],[[706.2,930.4],[718,928],[728.6,920],[732.2,906.1],[759.3,886.4],[778.2,887.6],[790,896.9],[813.6,844.8]],
[[617.8,905],[640.2,877.2]],[[705,928],[648.4,878.4]],[[640.2,877.2],[636.6,859.9],[621.3,852.9]],
[[640.2,856.4],[722.8,925.8]],[[647.3,850.6],[720.4,909.6]],[[655.5,846],[726.3,906.1]],
[[636.6,852.9],[655.5,837.9],[702.7,806.7]],[[702.7,806.7],[742.8,773.2],[764,754.7]],
[[680.3,862.2],[718,836.8]]
];
var roadTriple=[
[[538.8,1798.2],[519.9,1752],[509.3,1720],[495.1,1679],[479,1629.4]],
[[479,1339.6],[622.5,1300.7],[686.2,1279.5],[721.6,1263],[752.2,1238.2],[773.5,1219.3],[836.7,1158],[850.9,1150.9],[899.2,1110.8],[924,1087.7],[999.5,1032.1],[1025.4,1011.3],[1096.2,948.9],[1143.4,904.9],[1206.6,844.8],[1313.1,750.7]],
[[1206.6,1456.4],[1131.6,1434],[1060.8,1395.1],[997.1,1365.6],[957,1353.8],[895.7,1339.6],[874.4,1327.9],[850.9,1311.3],[836.7,1290],[804.1,1260.6],[773.5,1221.7],[745.2,1195.8],[714.5,1165.1],[672,1132],[636.6,1113.2],[613,1096.7],[594.2,1087.6],[573,1068],[528.1,1032.1],[479,985.9]],
[[1206.7,1460.7],[1250,1482],[1304.4,1493.7],[1350,1497.3]],
[[655.5,1119.8],[683.8,1087.6],[726.3,1050.6],[742.8,1011.3],[749.9,981.2],[797,907.3],[836.7,856.4],[869.7,814.8],[895.7,763.9],[899.2,750.7]],
[[886.2,750.7],[935.8,794],[1006.5,861],[1072.6,925.8],[1091.5,939.6]],
[[947.6,922.3],[912.2,884.2],[857.9,833.3]],[[924,952.3],[961.7,988.2],[992.4,1020.6]],
[[1334.8,750.7],[1430.3,870.3],[1460.7,918.8],[1466.1,939.6],[1466.1,995.1],[1471.6,1002],[1489,1018.2],[1527.4,1043.7]]
];

// hatched ditches
var ditches=[
[[1347.8,1798.3],[1341.3,1789.8],[1326.1,1785],[1310.9,1779.1],[1303.3,1773.2],[1308.7,1754.4],[1308.7,1740.2],[1297.9,1723.7],[1290.3,1707.2],[1280.5,1686],[1261,1676.5],[1239.3,1667.1],[1230.6,1655.3],[1230.6,1643.5],[1241.4,1629.4],[1271.8,1603.4],[1310.9,1582.2],[1347.8,1551.5],[1380.4,1524.4],[1419.5,1511.4],[1445.5,1492.5],[1454.2,1483.1],[1471.6,1464.2],[1488.9,1450.5],[1527.4,1435.2]],
[[577.7,797.4],[627.2,751.9]]
];
var redLine=[[479,923],[505.7,900.3],[523.4,857.6],[547,847.2],[566,818.2],[587.1,798.6],[637.8,750.7]];

var width=2336, height=2384;
var outer={left:10,top:46,right:2310,bottom:2345};
var inner={left:26.5,top:63,right:2293,bottom:2328};

var x=d3.scaleLinear().domain([600,1400]).range([288,2018]);
var y=d3.scaleLinear().domain([1600,800]).range([492,2222]);

var svg=d3.select("body").append("svg").attr("width",width).attr("height",height);
svg.append("clipPath").attr("id","map").append("rect")
  .attr("x",inner.left).attr("y",inner.top)
  .attr("width",inner.right-inner.left).attr("height",inner.bottom-inner.top);

var map=svg.append("g").attr("clip-path","url(#map)");
map.append("rect").attr("x",inner.left).attr("y",inner.top)
  .attr("width",inner.right-inner.left).attr("height",inner.bottom-inner.top).attr("fill","#80ff80");

// raster: a cell gets the zone colour if its centre falls in the outline
function cells(outline){
  var d="";
  var xr=d3.extent(outline,function(p){return p[0]}), yr=d3.extent(outline,function(p){return p[1]});
  for(var i=Math.floor((xr[0]-cellOrigin[0])/cellSize);i<=Math.ceil((xr[1]-cellOrigin[0])/cellSize);i++){
    for(var j=Math.floor(yr[0]/cellSize);j<=Math.ceil(yr[1]/cellSize);j++){
      var e=cellOrigin[0]+i*cellSize, n=cellOrigin[1]+j*cellSize;
      if(d3.polygonContains(outline,[e+cellSize/2,n+cellSize/2])){
        d+="M"+x(e)+","+y(n)+"L"+x(e+cellSize)+","+y(n)+"L"+x(e+cellSize)+","+y(n+cellSize)+"L"+x(e)+","+y(n+cellSize)+"Z";
      }
    }
  }
  return d;
}
var zones=[[zoneDark,"#008000"],[zoneYellow,"#ffff00"],[zoneOrangeA,"#ff8000"],[zoneOrangeB,"#ff8000"],[zoneOrangeC,"#ff8000"],
  [pocketTop,"#80ff80"],[pocketLeft,"#80ff80"],[pocketLowerA,"#80ff80"],[pocketLowerB,"#80ff80"],[ringOuter,"#80ff80"],[ringDark,"#008000"],[ringCore,"#80ff80"]];
map.selectAll("path.zone").data(zones).enter().append("path").attr("class","zone")
  .attr("d",function(z){return cells(z[0])}).attr("fill",function(z){return z[1]}).attr("shape-rendering","crispEdges");

var line=d3.line().x(function(p){return x(p[0])}).y(function(p){return y(p[1])});
var ring=function(p){return line(p)+"Z"};

// parallel copy of a line, d in pixels
function parallel(pts,d){
  var px=pts.map(function(p){return [x(p[0]),y(p[1])]});
  return d3.line()(px.map(function(p,i){
    var a=px[Math.max(i-1,0)], b=px[Math.min(i+1,px.length-1)];
    var dx=b[0]-a[0], dy=b[1]-a[1], len=Math.sqrt(dx*dx+dy*dy)||1;
    return [p[0]-dy/len*d,p[1]+dx/len*d];
  }));
}

map.selectAll("path.grey").data(buildingsGrey).enter().append("path").attr("d",ring).attr("fill","#595959");

var lines=map.append("g").attr("fill","none").attr("stroke","#0a1a0a").attr("stroke-opacity",0.8).attr("stroke-width",1);
lines.selectAll("path.parcel").data(lineParcels).enter().append("path").attr("d",line);
roadDouble.forEach(function(r){ [-3,3].forEach(function(o){ lines.append("path").attr("d",parallel(r,o)) }) });
roadTriple.forEach(function(r){ [-6,-2,2,6].forEach(function(o){ lines.append("path").attr("d",parallel(r,o)) }) });
ditches.forEach(function(r){
  [-3,3].forEach(function(o){ lines.append("path").attr("d",parallel(r,o)) });
  lines.append("path").attr("d",line(r)).attr("stroke-width",22).attr("stroke-dasharray","1 7").attr("stroke-opacity",0.6);
});
map.append("path").attr("d",line(redLine)).attr("fill","none").attr("stroke","#e8141c").attr("stroke-width",2);

map.selectAll("path.red").data(buildingsRed).enter().append("path").attr("d",ring)
  .attr("fill","#aa1500").attr("stroke","#000").attr("stroke-width",2.5);
map.append("path").attr("d",ring(basinOuter)).attr("fill","#a0a0a0").attr("stroke","#111").attr("stroke-width",2.5);
map.append("path").attr("d",ring(basinWater)).attr("fill","#0f87ff");

// frame: alternating bars between the ticks
var frame=svg.append("g");
frame.append("rect").attr("x",outer.left).attr("y",outer.top).attr("width",outer.right-outer.left).attr("height",outer.bottom-outer.top)
  .attr("fill","none").attr("stroke","#555").attr("stroke-width",1.5);
function bar(a,b,c,d,white){
  frame.append("rect").attr("x",a).attr("y",c).attr("width",b-a).attr("height",d-c).attr("fill","#000");
  if(white) frame.append("rect").attr("x",a+2).attr("y",c+2).attr("width",b-a-4).attr("height",d-c-4).attr("fill","#fff");
}
var xEdges=[inner.left].concat(xTicks.map(x),[inner.right]);
var yEdges=[inner.top].concat(yTicks.map(y),[inner.bottom]);
d3.pairs(xEdges).forEach(function(s,i){
  bar(s[0],s[1],outer.top,inner.top,i%2==1);
  bar(s[0],s[1],inner.bottom,outer.bottom,i%2==1);
});
d3.pairs(yEdges).forEach(function(s,i){
  bar(outer.left,inner.left,s[0],s[1],i%2==1);
  bar(inner.right,outer.right,s[0],s[1],i%2==1);
});
bar(outer.left,inner.left,outer.top,inner.top,true);
bar(outer.left,inner.left,inner.bottom,outer.bottom,true);
bar(inner.right,outer.right,outer.top,inner.top,false);
bar(inner.right,outer.right,inner.bottom,outer.bottom,false);

var fmt=d3.format(".3f");
svg.selectAll("text.top").data(xTicks).enter().append("text").attr("x",x).attr("y",30).attr("text-anchor","middle").text(function(d){return fmt(eastBase+d)});
svg.selectAll("text.bottom").data(xTicks).enter().append("text").attr("x",x).attr("y",2375).attr("text-anchor","middle").text(function(d){return fmt(eastBase+d)});
svg.selectAll("text.right").data(yTicks).enter().append("text").attr("text-anchor","middle")
  .attr("transform",function(d){return "translate(2319,"+y(d)+") rotate(90)"}).text(function(d){return fmt(northBase+d)});
</script>
</body>
</html>
